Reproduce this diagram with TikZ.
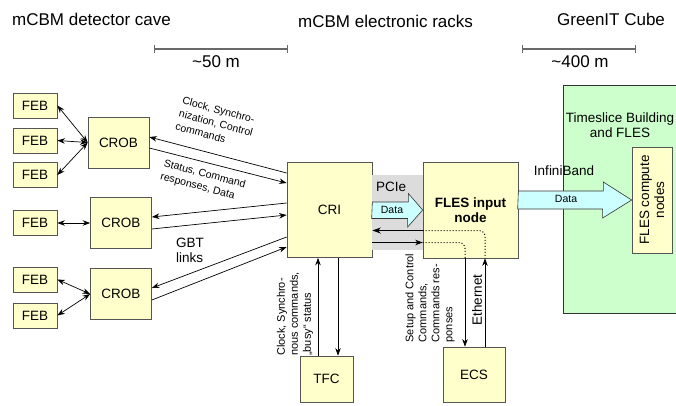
\documentclass[tikz,border=0pt]{standalone}
\usepackage{fontspec}
\setmainfont{Liberation Sans}
\usepackage{tikz}
\usetikzlibrary{arrows.meta, positioning, calc}
\definecolor{boxyellow}{RGB}{255,255,204}
\definecolor{boxline}{RGB}{85,85,85}
\definecolor{cubegreen}{RGB}{204,255,204}
\definecolor{datacyan}{RGB}{204,255,255}
\definecolor{pciegray}{RGB}{220,220,220}
\definecolor{bargray}{RGB}{105,105,105}
\tikzset{
  febbox/.style={rectangle, draw=boxline, fill=boxyellow,
    minimum width=44pt, minimum height=25pt, inner sep=0pt,
    font=\fontsize{13.5}{15}\selectfont, line width=0.7pt},
  crobbox/.style={febbox, minimum width=61pt, minimum height=51pt},
  bigbox/.style={febbox, align=center},
  cubebox/.style={rectangle, draw=black!80, fill=cubegreen, line width=1pt},
  datashape/.style={draw=black!80, fill=datacyan, line width=0.6pt},
  link/.style={-{Stealth[length=7.5pt,width=5.5pt]}, line width=0.7pt},
  biglink/.style={-{Stealth[length=8.5pt,width=6pt]}, line width=1.4pt},
  dbllink/.style={{Stealth[length=7.5pt,width=5.5pt]}-{Stealth[length=7.5pt,width=5.5pt]}, line width=0.7pt},
  dotline/.style={dotted, line width=1pt, rounded corners=6pt},
  scalebar/.style={{Bar[width=8pt]}-{Bar[width=8pt]}, draw=bargray, line width=1.3pt},
  titletxt/.style={inner sep=0pt, font=\fontsize{17}{19}\selectfont},
  txt/.style={inner sep=0pt, font=\fontsize{13.5}{15}\selectfont},
  smalltxt/.style={inner sep=0pt, font=\fontsize{10.5}{12}\selectfont},
  slanttxt/.style={inner sep=0pt, rotate=-15, align=left,
    font=\fontsize{10.5}{13.5}\selectfont},
  uptxt/.style={inner sep=0pt, rotate=90, align=left,
    font=\fontsize{11}{13}\selectfont}
}

\begin{document}
\begin{tikzpicture}[x=1pt, y=-1pt]
  \useasboundingbox (0,0) rectangle (676,405);

  % headings and distances
  \node[titletxt, anchor=west] (cave) at (12,19) {mCBM detector cave};
  \node[titletxt, anchor=west] (racks) at (298,21) {mCBM electronic racks};
  \node[titletxt, anchor=west] (greenit) at (557,19) {GreenIT Cube};
  \coordinate (barl1) at (154,49);
  \coordinate (barr1) at (288,49);
  \coordinate (barl2) at (522,49);
  \coordinate (barr2) at (636,49);
  \draw[scalebar] (barl1) -- (barr1);
  \draw[scalebar] (barl2) -- (barr2);
  \node[titletxt] (dist1) at (216,62) {\textasciitilde50 m};
  \node[titletxt] (dist2) at (580,62) {\textasciitilde400 m};

  % GreenIT Cube area
  \node[cubebox, minimum width=130pt, minimum height=228pt] (cube) at (628,199) {};
  \node[txt, align=center] (tslabel) at (620,125) {Timeslice Building\\and FLES};
  \node[bigbox, minimum width=40pt, minimum height=106pt] (comp) at (652,200) {};
  \node[txt, rotate=90, align=center] (comptext) at (comp.center) {FLES compute\\nodes};

  % front-end boards and readout boards
  \node[febbox] (feb1) at (35,105.5) {FEB};
  \node[febbox] (feb2) at (35,140.5) {FEB};
  \node[febbox] (feb3) at (35,175) {FEB};
  \node[febbox] (feb4) at (35,223) {FEB};
  \node[febbox] (feb5) at (35,279.5) {FEB};
  \node[febbox] (feb6) at (35,315.5) {FEB};
  \node[crobbox] (crob1) at (118.5,142.5) {CROB};
  \node[crobbox] (crob2) at (121,223) {CROB};
  \node[crobbox] (crob3) at (121,294) {CROB};

  % racks
  \node[bigbox, minimum width=85pt, minimum height=95pt] (cri) at (329.5,210) {CRI};
  \node[bigbox, minimum width=95pt, minimum height=96pt, font=\fontsize{13.5}{15}\selectfont\bfseries] (fles) at (470.5,210) {FLES input\\node};
  \node[bigbox, minimum width=53pt, minimum height=46pt] (tfc) at (326.5,379) {TFC};
  \node[bigbox, minimum width=62pt, minimum height=55pt] (ecs) at (474,374.5) {ECS};

  % PCIe band and data arrows
  \fill[pciegray] ([yshift=-13pt]cri.north east) rectangle ([yshift=8pt]fles.south west);
  \draw[datashape] ([yshift=8pt]cri.east) -- ++(36,0) -- ++(0,-8.5) -- (fles.west)
    -- ++(-15,17) -- ++(0,-8.5) -- ++(-36,0) -- cycle;
  \node[smalltxt] (pcidata) at (392,210) {Data};
  \node[txt] (pcie) at (391,187) {PCIe};
  \draw[datashape] ([yshift=19pt]fles.east) -- ++(85,0) -- ++(0,-9) -- (comp.west)
    -- ++(-29,18) -- ++(0,-9) -- ++(-85,0) -- cycle;
  \node[smalltxt] (ibdata) at (566,199) {Data};
  \node[txt] (infiniband) at (564,171) {InfiniBand};

  % FEB <-> CROB
  \draw[dbllink] (feb1.east) -- (crob1.west);
  \draw[dbllink] (feb2.east) -- (crob1.west);
  \draw[dbllink] (feb3.east) -- (crob1.west);
  \draw[dbllink] (feb4.east) -- (crob2.west);
  \draw[dbllink] (feb5.east) -- (crob3.west);
  \draw[dbllink] (feb6.east) -- (crob3.west);

  % GBT links
  \draw[link] ([yshift=37pt]cri.west) -- ([yshift=5.5pt]crob1.east);
  \draw[link] ([yshift=-5.5pt]crob1.east) -- ([yshift=27pt]cri.west);
  \draw[link] ([yshift=7pt]cri.west) -- ([yshift=6pt]crob2.east);
  \draw[link] ([yshift=-6pt]crob2.east) -- ([yshift=-5pt]cri.west);
  \draw[link] ([yshift=-27pt]cri.west) -- ([yshift=6pt]crob3.east);
  \draw[link] ([yshift=-6pt]crob3.east) -- ([yshift=-37pt]cri.west);
  \node[slanttxt] (clklabel) at (216,123) {Clock, Synchro-\\nization, Control\\commands};
  \node[slanttxt] (statlabel) at (203,181) {Status, Command\\responses, Data};
  \node[txt, align=left] (gbtlabel) at (190,250) {GBT\\links};

  % control paths
  \draw[biglink] ([yshift=-20.5pt]fles.west) -- ([yshift=-20.5pt]cri.east);
  \draw[link] ([yshift=-32.5pt]cri.east) -- ([yshift=-32.5pt]fles.west);
  \draw[dotline] ([yshift=-20.5pt]fles.west) -| ([xshift=14.5pt]fles.south);
  \draw[dotline] ([yshift=-32.5pt]fles.west) -| ([xshift=-5.5pt]fles.south);
  \draw[link] ([xshift=11pt]ecs.north) -- ([xshift=14.5pt]fles.south);
  \draw[link] ([xshift=-5.5pt]fles.south) -- ([xshift=-9pt]ecs.north);
  \draw[link] ([xshift=-8.5pt]tfc.north) -- ([xshift=-11.5pt]cri.south);
  \draw[link] ([xshift=8.5pt]cri.south) -- ([xshift=11.5pt]tfc.north);
  \node[uptxt] (tfclabel) at (295,314) {Clock, Synchro-\\nous commands,\\„busy“ status};
  \node[uptxt] (ecslabel) at (430,298) {Setup and Control\\Commands,\\Commands res-\\ponses};
  \node[txt, rotate=90] (ethlabel) at (477,300) {Ethernet};
\end{tikzpicture}
\end{document}
